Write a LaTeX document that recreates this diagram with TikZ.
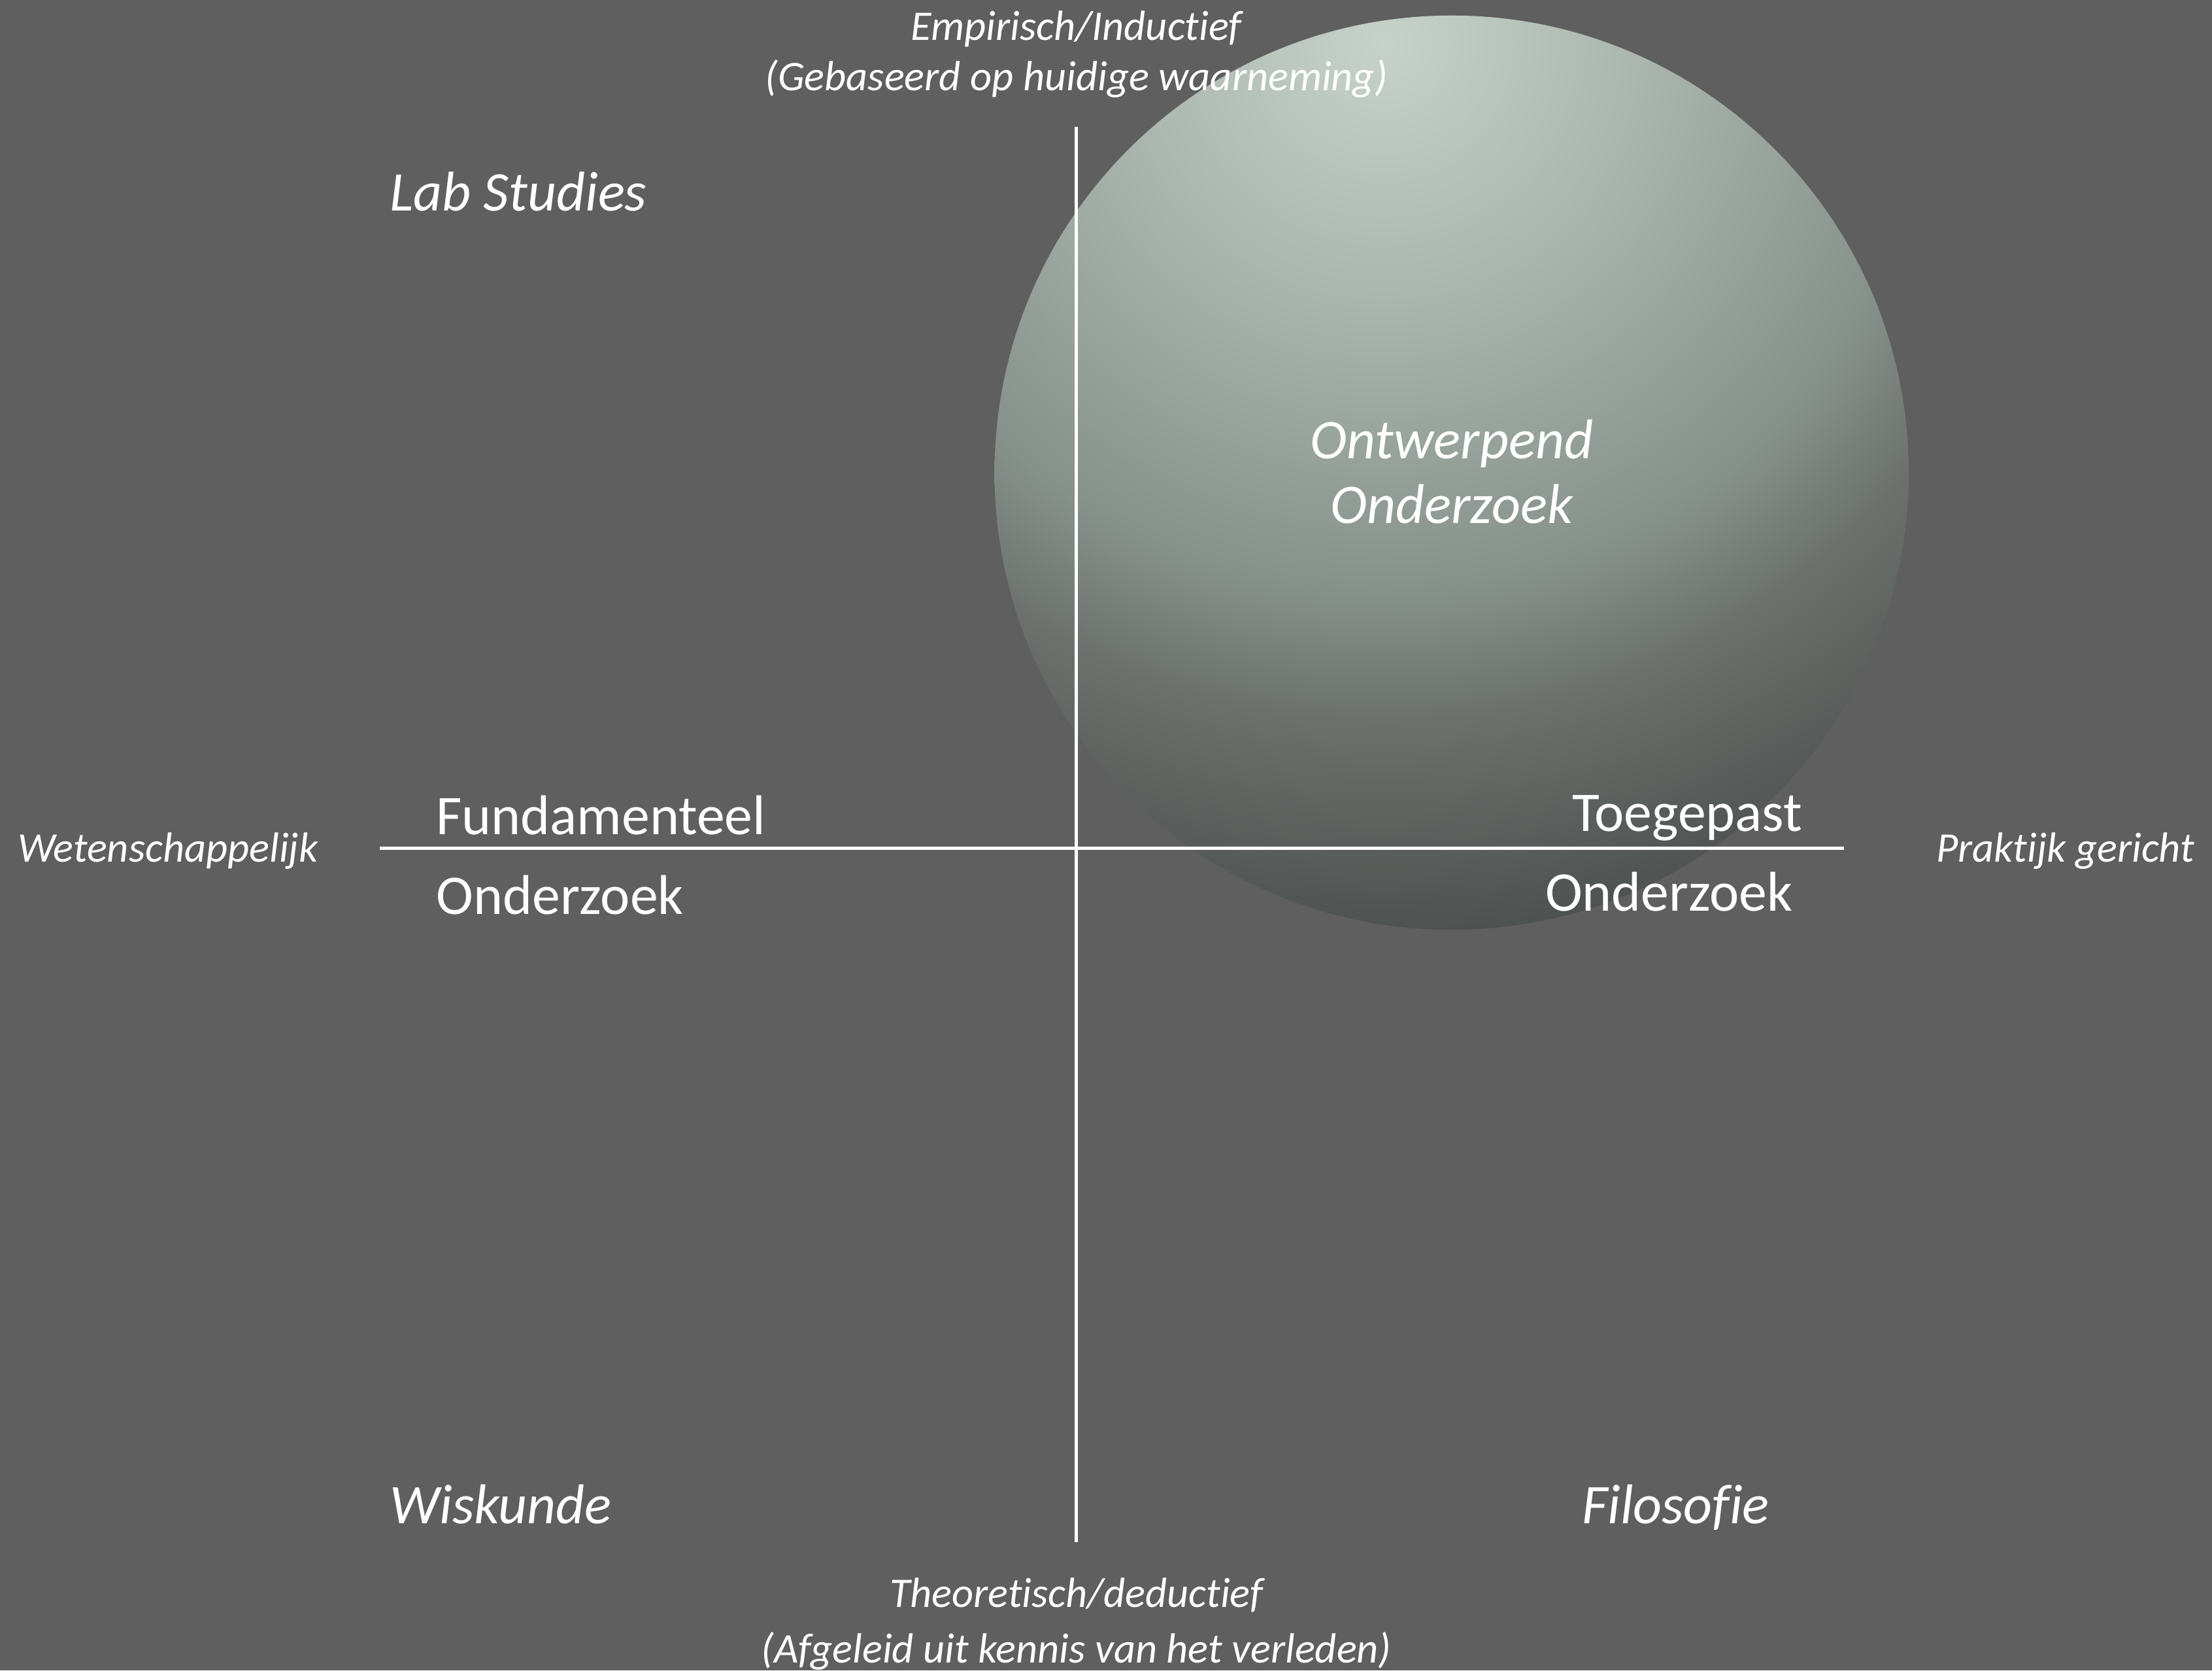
\documentclass[tikz,border=0pt]{standalone}
\usepackage{fontspec}
\setmainfont{Carlito}[Ligatures=NoCommon]
\definecolor{bgc}{RGB}{95,95,95}
\pgfdeclareradialshading{spherebg}{\pgfpointorigin}{%
rgb(0cm)=(0.776,0.824,0.792);
rgb(3.6cm)=(0.667,0.714,0.682);
rgb(7.8cm)=(0.529,0.569,0.549);
rgb(9.6cm)=(0.424,0.443,0.431);
rgb(12.6cm)=(0.306,0.322,0.314);
rgb(14cm)=(0.294,0.306,0.298)}
\begin{document}
\begin{tikzpicture}[x=0.02cm,y=0.02cm,
  big/.style={text=white,inner sep=0pt,font=\fontsize{22.6}{27}\selectfont},
  bigit/.style={big,font=\fontsize{22.6}{27}\selectfont\itshape},
  small/.style={text=white,inner sep=0pt,font=\fontsize{17}{20}\selectfont\itshape},
  axis/.style={draw=white,line width=1.3pt}]
\useasboundingbox[fill=bgc] (0,0) rectangle (1568,1184);
% sphere
\coordinate (sc) at (1029,849);
\coordinate (hl) at (980,1154);
\begin{scope}
\clip (sc) circle (324);
\node[inner sep=0pt,outer sep=0pt] (sph) at (hl) {\pgfuseshading{spherebg}};
\end{scope}
% axes
\coordinate (vt) at (763,1094);
\coordinate (vb) at (763,91);
\coordinate (hleft) at (269,583);
\coordinate (hright) at (1307,583);
\draw[axis] (vt) -- (vb);
\draw[axis] (hleft) -- (hright);
% axis labels
\node[small,anchor=base] (emp) at (763,1155.4) {Empirisch/Inductief};
\node[small,anchor=base] (geb) at (763,1120) {(Gebaseerd op huidige waarneming)};
\node[small,anchor=base] (the) at (763,45) {Theoretisch/deductief};
\node[small,anchor=base] (afg) at (763,5.5) {(Afgeleid uit kennis van het verleden)};
\node[small,anchor=base] (wet) at (119,573) {Wetenschappelijk};
\node[small,anchor=base] (prak) at (1464,573) {Praktijk gericht};
% quadrant labels
\node[bigit,anchor=base west] (lab) at (276,1034.5) {Lab Studies};
\node[bigit,anchor=base west] (wis) at (276,104.3) {Wiskunde};
\node[bigit,anchor=base west] (fil) at (1121,104.3) {Filosofie};
\node[big,anchor=base west] (fund) at (309,592.4) {Fundamenteel};
\node[big,anchor=base west] (ond1) at (309,536) {Onderzoek};
\node[big,anchor=base] (toe) at (1196,595) {Toegepast};
\node[big,anchor=base] (ond2) at (1183,538.5) {Onderzoek};
\node[bigit,anchor=base] (ontw) at (1029,859) {Ontwerpend};
\node[bigit,anchor=base] (ond3) at (1029,813) {Onderzoek};
\end{tikzpicture}
\end{document}
